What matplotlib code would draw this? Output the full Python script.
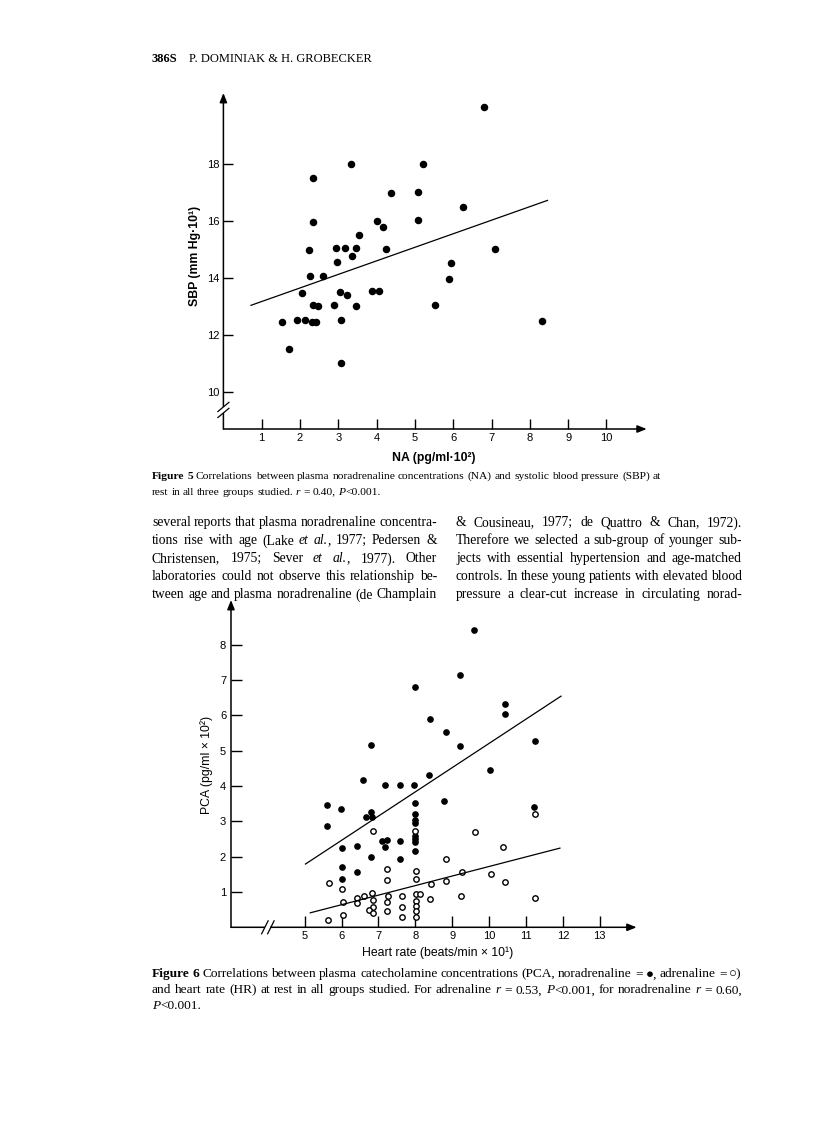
import matplotlib
matplotlib.use("Agg")
import matplotlib.pyplot as plt
import numpy as np
from matplotlib.transforms import IdentityTransform
from matplotlib.lines import Line2D

# ---------------- data : Figure 5 ----------------
na5 = [6.79, 3.32, 5.21, 2.33, 4.37, 5.07, 6.26, 2.35, 4.02, 4.16,
       5.08, 3.55, 2.23, 2.94, 3.18, 3.45, 4.25, 7.09, 2.96, 3.35,
       5.95, 2.25, 2.61, 5.90, 2.04, 3.04, 3.23, 3.89, 4.07, 2.33,
       2.48, 2.88, 3.47, 5.52, 1.52, 1.93, 2.13, 2.30, 2.42, 3.08,
       8.31, 1.72, 3.07]
sbp5 = [20.0, 18.0, 18.0, 17.52, 16.99, 17.02, 16.51, 15.98, 16.02, 15.79,
        16.03, 15.52, 14.99, 15.05, 15.05, 15.05, 15.03, 15.03, 14.56, 14.79,
        14.52, 14.06, 14.06, 13.96, 13.49, 13.52, 13.41, 13.55, 13.55, 13.04,
        13.01, 13.04, 13.01, 13.04, 12.47, 12.51, 12.52, 12.47, 12.47, 12.52,
        12.48, 11.49, 11.01]
fit5_x = [0.72, 8.46]
fit5_y = [13.04, 16.73]
x5_ticks = [1, 2, 3, 4, 5, 6, 7, 8, 9, 10]
y5_ticks = [10, 12, 14, 16, 18]

# ---------------- data : Figure 6 ----------------
hr_na = [5.60, 5.59, 5.98, 6.00, 6.42, 6.00, 6.41, 6.00, 6.79, 7.59,
         7.59, 8.79, 11.22, 6.79, 6.67, 6.82, 7.09, 7.22, 7.18, 8.00,
         8.00, 7.98, 8.00, 8.00, 8.00, 8.00, 8.00, 9.59, 9.20, 7.99,
         10.42, 10.42, 8.41, 8.82, 6.79, 9.21, 11.25, 10.03, 6.59, 7.18,
         7.58, 7.97, 8.38]
pca_na = [3.46, 2.86, 3.34, 2.25, 2.30, 1.72, 1.56, 1.36, 2.00, 1.93,
          2.43, 3.58, 3.41, 3.25, 3.12, 3.11, 2.44, 2.46, 2.26, 3.52,
          3.20, 3.03, 2.96, 2.58, 2.50, 2.41, 2.17, 8.41, 7.14, 6.79,
          6.32, 6.03, 5.90, 5.53, 5.15, 5.12, 5.28, 4.44, 4.18, 4.04,
          4.04, 4.02, 4.30]
hr_a = [6.85, 8.00, 9.62, 11.25, 10.39, 8.82, 7.22, 8.02, 9.26, 10.05,
        8.01, 7.24, 10.43, 5.65, 8.42, 8.82, 6.02, 6.83, 8.01, 8.13,
        7.27, 7.64, 6.62, 6.42, 6.84, 8.41, 9.23, 11.25, 6.04, 6.42,
        7.23, 8.01, 8.01, 7.64, 6.85, 6.74, 6.85, 7.22, 8.01, 7.64,
        8.03, 6.05, 5.64]
pca_a = [2.72, 2.73, 2.71, 3.20, 2.26, 1.94, 1.66, 1.58, 1.57, 1.50,
         1.38, 1.33, 1.29, 1.24, 1.23, 1.30, 1.07, 0.98, 0.94, 0.95,
         0.89, 0.89, 0.89, 0.84, 0.77, 0.79, 0.89, 0.83, 0.72, 0.68,
         0.71, 0.75, 0.61, 0.58, 0.57, 0.48, 0.41, 0.45, 0.45, 0.30,
         0.28, 0.34, 0.22]
fit_na_x = [5.02, 11.95]
fit_na_y = [1.79, 6.54]
fit_a_x = [5.15, 11.92]
fit_a_y = [0.41, 2.24]
x6_ticks = [5, 6, 7, 8, 9, 10, 11, 12, 13]
y6_ticks = [1, 2, 3, 4, 5, 6, 7, 8]

# ---------------- text ----------------
header_num = "386S"
header_txt = "P. DOMINIAK & H. GROBECKER"
cap5 = [
    "^Figure^ ^5^ Correlations between plasma noradrenaline concentrations (NA) and systolic blood pressure (SBP) at",
    "rest in all three groups studied. ~r~ = 0.40, ~P~<0.001.",
]
body_left = [
    "several reports that plasma noradrenaline concentra-",
    "tions rise with age (Lake ~et~ ~al.~, 1977; Pedersen &",
    "Christensen, 1975; Sever ~et~ ~al.~, 1977). Other",
    "laboratories could not observe this relationship be-",
    "tween age and plasma noradrenaline (de Champlain",
]
body_right = [
    "& Cousineau, 1977; de Quattro & Chan, 1972).",
    "Therefore we selected a sub-group of younger sub-",
    "jects with essential hypertension and age-matched",
    "controls. In these young patients with elevated blood",
    "pressure a clear-cut increase in circulating norad-",
]
cap6 = [
    "^Figure^ ^6^ Correlations between plasma catecholamine concentrations (PCA, noradrenaline = \u25cf, adrenaline = \u25cb)",
    "and heart rate (HR) at rest in all groups studied. For adrenaline ~r~ = 0.53, ~P~<0.001, for noradrenaline ~r~ = 0.60,",
    "~P~<0.001.",
]

W, H = 816, 1146
SANS = ["Liberation Sans", "DejaVu Sans"]
SERIF = ["Liberation Serif", "DejaVu Serif"]

fig = plt.figure(figsize=(W / 100, H / 100), dpi=100)
fig.patch.set_facecolor("white")
renderer = fig.canvas.get_renderer()
ID = IdentityTransform()


def fbox(l, t, r, b):
    return [l / W, 1 - b / H, (r - l) / W, (b - t) / H]


def parse(word):
    segs, style, buf = [], "n", ""
    for ch in word:
        if ch in "~^":
            if buf:
                segs.append((buf, style))
                buf = ""
            style = ("i" if ch == "~" else "b") if style == "n" else "n"
        else:
            buf += ch
    if buf:
        segs.append((buf, style))
    return segs


def make_words(line, size):
    items, widths = [], []
    for segs in [parse(w) for w in line.split(" ")]:
        objs, tot = [], 0.0
        for txt, st in segs:
            t = fig.text(0, 0, txt, fontsize=size, family=SERIF,
                         fontstyle="italic" if st == "i" else "normal",
                         fontweight="bold" if st == "b" else "normal",
                         ha="left", va="baseline", transform=ID)
            w = t.get_window_extent(renderer).width
            objs.append((t, w))
            tot += w
        items.append(objs)
        widths.append(tot)
    return items, widths


def space_w(size):
    return size * 100 / 72 * 0.25


def fit_size(lines, target, s0=10.0, mode="median"):
    scales = []
    for ln in lines:
        items, widths = make_words(ln, s0)
        nat = sum(widths) + (len(widths) - 1) * space_w(s0)
        scales.append(target / nat)
        for objs in items:
            for t, _ in objs:
                t.remove()
    sc = min(scales) if mode == "min" else float(np.median(scales))
    return s0 * sc


def text_line(line, x0, x1, ycenter, size, justify=True):
    items, widths = make_words(line, size)
    if justify and len(items) > 1:
        gap = (x1 - x0 - sum(widths)) / (len(items) - 1)
    else:
        gap = space_w(size)
    x = x0
    yb = H - (ycenter + size * 0.45)
    for objs in items:
        for t, w in objs:
            t.set_position((x, yb))
            x += w
        x += gap


def seg(p0, p1, lw=1.0, color="black"):
    fig.add_artist(Line2D([p0[0], p1[0]], [p0[1], p1[1]], transform=ID,
                          lw=lw, color=color, solid_capstyle="butt"))


def arrow_axes(ax, start, end):
    ax.annotate("", xy=end, xytext=start, xycoords="axes fraction",
                textcoords="axes fraction",
                arrowprops=dict(arrowstyle="-|>,head_length=0.55,head_width=0.22",
                                lw=1.1, color="black", mutation_scale=10,
                                shrinkA=0, shrinkB=0))


# ---------------- header ----------------
fig.text(152, H - 62, header_num, fontsize=9.0, family=SERIF, fontweight="bold",
         ha="left", va="baseline", transform=ID)
fig.text(189, H - 62, header_txt, fontsize=9.0, family=SERIF,
         ha="left", va="baseline", transform=ID)

# ---------------- Figure 5 ----------------
ax1 = fig.add_axes(fbox(223.4, 93, 646.7, 429))
ax1.set_xlim(0, 11.05)
ax1.set_ylim(8.689, 20.508)
for s in ax1.spines.values():
    s.set_visible(False)
ax1.set_xticks(x5_ticks)
ax1.set_yticks(y5_ticks)
ax1.tick_params(direction="in", length=7, width=1.0, labelsize=8, pad=3,
                labelfontfamily="Liberation Sans")
ax1.tick_params(axis="y", pad=2.5)
ax1.plot(na5, sbp5, "o", ms=4.4, color="black", mec="black", clip_on=False)
ax1.plot(fit5_x, fit5_y, "-", color="black", lw=0.9)
arrow_axes(ax1, (0, 0), (1, 0))
arrow_axes(ax1, (0, 0), (0, 1))
bx, by = ax1.transData.transform((0, 9.36))
seg((bx, by - 3), (bx, by + 3), lw=3, color="white")
for dy in (-3.0, 3.0):
    seg((bx - 6, by + dy - 5), (bx + 6, by + dy + 5), lw=0.9)
fig.text(195, H - 256, "SBP (mm Hg\u00b710\u00b9)", rotation=90, fontsize=8.8,
         family=SANS, fontweight="bold", ha="center", va="center", transform=ID)
fig.text(434, H - 458, "NA (pg/ml\u00b710\u00b2)", fontsize=8.8,
         family=SANS, fontweight="bold", ha="center", va="center", transform=ID)

# ---------------- caption 5 & body text ----------------
s_cap5 = fit_size(cap5[:1], 661 - 152)
text_line(cap5[0], 152, 661, 475, s_cap5, True)
text_line(cap5[1], 152, 661, 491, s_cap5, False)
s_body = fit_size(body_left + body_right, 286, mode="min")
for i, ln in enumerate(body_left):
    text_line(ln, 152, 437, 522 + 18 * i, s_body, True)
for i, ln in enumerate(body_right):
    text_line(ln, 456, 742, 522 + 18 * i, s_body, True)

# ---------------- Figure 6 ----------------
ax2 = fig.add_axes(fbox(231, 600, 636.6, 927.3))
ax2.set_xlim(3.0, 14.0)
ax2.set_ylim(0, 9.26)
for s in ax2.spines.values():
    s.set_visible(False)
ax2.set_xticks(x6_ticks)
ax2.set_yticks(y6_ticks)
ax2.tick_params(direction="in", length=8, width=1.0, labelsize=8, pad=3,
                labelfontfamily="Liberation Sans")
ax2.tick_params(axis="y", pad=3.5)
ax2.plot(hr_na, pca_na, "o", ms=3.8, color="black", mec="black", clip_on=False)
ax2.plot(hr_a, pca_a, "o", ms=3.9, mfc="white", mec="black", mew=1.0, clip_on=False)
ax2.plot(fit_na_x, fit_na_y, "-", color="black", lw=0.9)
ax2.plot(fit_a_x, fit_a_y, "-", color="black", lw=0.9)
arrow_axes(ax2, (0, 0), (1, 0))
arrow_axes(ax2, (0, 0), (0, 1))
cx, cy = ax2.transData.transform((4.0, 0))
seg((cx - 2.5, cy), (cx + 2.5, cy), lw=3, color="white")
for dx in (-3.0, 3.0):
    seg((cx + dx - 3.5, cy - 7), (cx + dx + 3.5, cy + 7), lw=0.9)
fig.text(207, H - 765, "PCA (pg/ml \u00d7 10\u00b2)", rotation=90, fontsize=8.8,
         family=SANS, ha="center", va="center", transform=ID)
fig.text(437.5, H - 953, "Heart rate (beats/min \u00d7 10\u00b9)", fontsize=8.8,
         family=SANS, ha="center", va="center", transform=ID)

# ---------------- caption 6 ----------------
s_cap6 = fit_size(cap6[:2], 742 - 152)
text_line(cap6[0], 152, 742, 973, s_cap6, True)
text_line(cap6[1], 152, 742, 989, s_cap6, True)
text_line(cap6[2], 152, 742, 1005, s_cap6, False)

fig.savefig("out.png", dpi=100, facecolor="white")
